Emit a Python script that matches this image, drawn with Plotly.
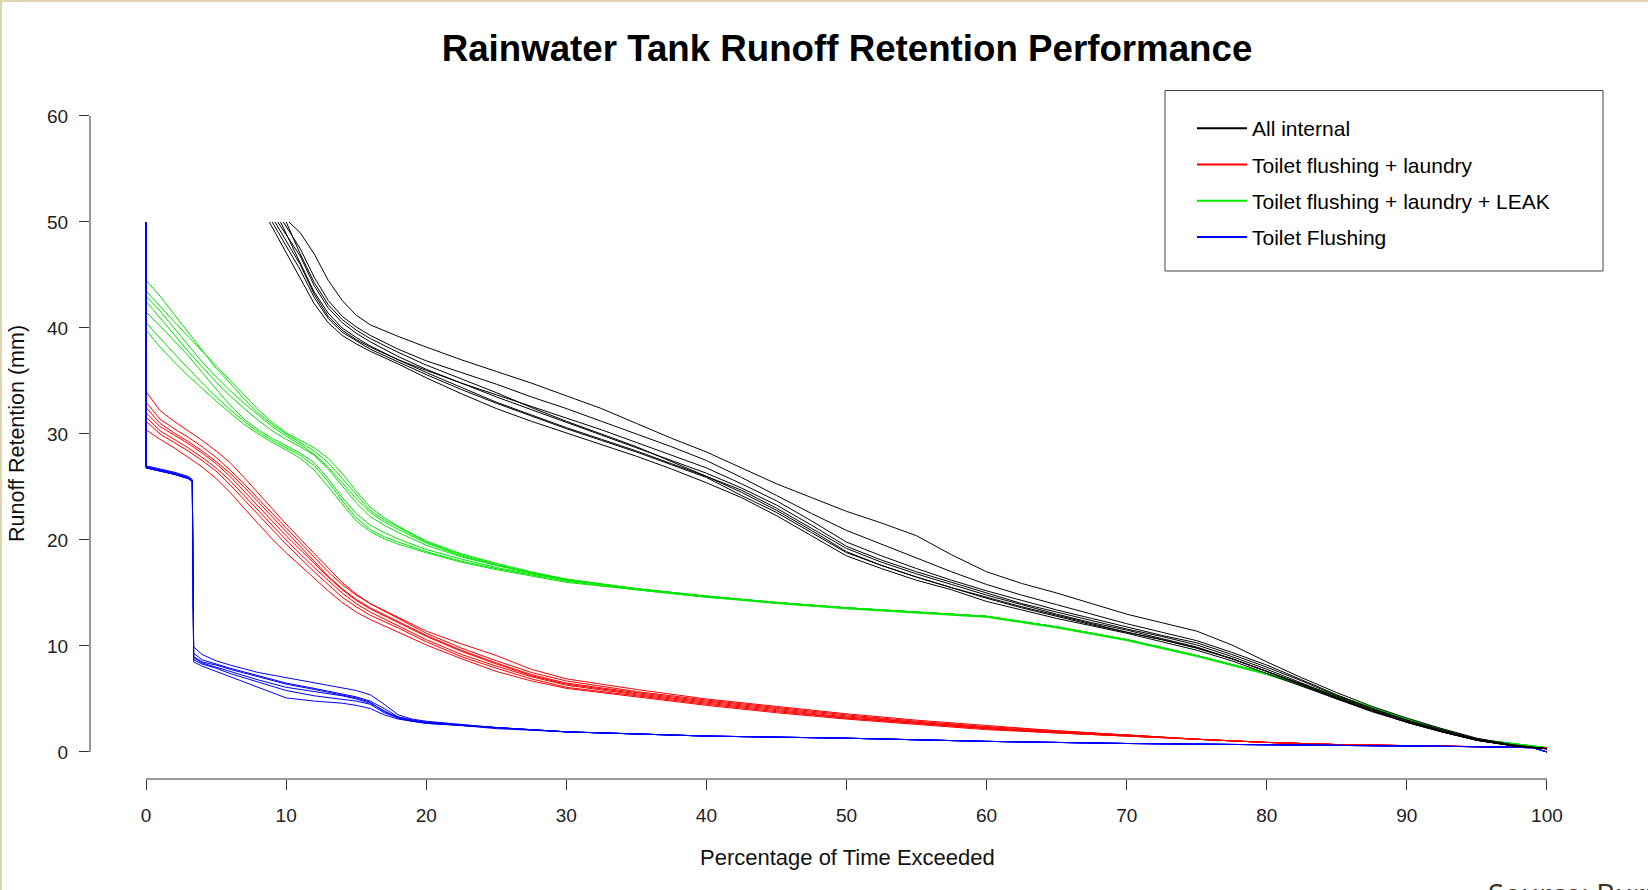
import plotly.graph_objects as go

# ---------------- data ----------------
legend_names = ["All internal", "Toilet flushing + laundry",
                "Toilet flushing + laundry + LEAK", "Toilet Flushing"]

# All internal (black): each line starts at y=50 at its own x, then follows the shared grid
black_start_x = [10.2, 9.8, 8.8, 9.4, 9.6, 9.2, 10.0, 9.0]
black_x = [11, 12, 13, 14, 15, 16, 18, 20, 22.5, 25, 27.5, 30, 32.5, 35, 37.5, 40, 42.5, 45,
           47.5, 50, 52.5, 55, 57.5, 60, 62.5, 65, 67.5, 70, 72.5, 75, 77.5, 80, 82.5, 85,
           87.5, 90, 92.5, 95, 97.5, 100]
black_lines = [
    [49.0, 47.0, 44.5, 42.6, 41.2, 40.3, 39.2, 38.2, 37.0, 35.9, 34.8, 33.6, 32.4, 31.0, 29.6, 28.3, 26.8, 25.3,
     24.0, 22.7, 21.6, 20.4, 18.6, 17.0, 15.9, 15.0, 14.0, 13.0, 12.2, 11.4, 10.1, 8.5, 7.0, 5.6, 4.3, 3.2, 2.2, 1.3, 0.7, 0.3],
    [47.5, 44.8, 42.6, 41.1, 40.1, 39.3, 38.0, 36.9, 35.8, 34.7, 33.5, 32.4, 31.2, 30.0, 28.8, 27.5, 25.9, 24.2,
     22.5, 20.9, 19.6, 18.3, 17.0, 15.8, 14.8, 13.9, 13.0, 12.1, 11.3, 10.5, 9.4, 8.2, 6.8, 5.4, 4.1, 3.0, 2.1, 1.2, 0.6, 0.3],
    [44.8, 42.3, 40.5, 39.3, 38.5, 37.8, 36.6, 35.3, 33.8, 32.4, 31.2, 30.1, 29.0, 27.9, 26.7, 25.4, 24.0, 22.3,
     20.4, 18.5, 17.3, 16.2, 15.3, 14.2, 13.4, 12.6, 11.9, 11.2, 10.4, 9.6, 8.6, 7.4, 6.2, 5.0, 3.9, 2.8, 1.9, 1.1, 0.6, 0.3],
    [46.8, 44.0, 41.9, 40.5, 39.5, 38.7, 37.3, 36.1, 34.8, 33.5, 32.3, 31.1, 29.9, 28.7, 27.5, 26.3, 24.9, 23.3,
     21.4, 19.4, 18.1, 17.0, 16.0, 15.0, 14.0, 13.2, 12.4, 11.6, 10.9, 10.1, 9.0, 7.8, 6.5, 5.2, 4.0, 2.9, 2.0, 1.2, 0.6, 0.3],
    [46.2, 43.4, 41.4, 40.0, 39.1, 38.3, 37.0, 35.8, 34.4, 33.0, 31.8, 30.6, 29.5, 28.4, 27.2, 26.0, 24.5, 22.8,
     20.9, 18.9, 17.6, 16.5, 15.5, 14.5, 13.6, 12.8, 12.0, 11.3, 10.6, 9.8, 8.8, 7.6, 6.4, 5.1, 3.9, 2.8, 1.9, 1.1, 0.6, 0.3],
    [46.0, 43.2, 41.1, 39.8, 38.9, 38.2, 37.0, 36.0, 34.8, 33.7, 32.6, 31.5, 30.4, 29.2, 28.0, 26.8, 25.3, 23.7,
     21.8, 19.8, 18.5, 17.3, 16.2, 15.2, 14.3, 13.4, 12.6, 11.8, 11.0, 10.3, 9.2, 8.0, 6.7, 5.3, 4.1, 3.0, 2.0, 1.2, 0.6, 0.3],
    [47.0, 44.3, 42.2, 40.8, 39.8, 39.0, 37.7, 36.5, 35.2, 33.9, 32.5, 31.2, 30.0, 28.8, 27.4, 26.0, 24.7, 23.0,
     21.1, 19.2, 17.9, 16.8, 15.8, 14.8, 13.9, 13.0, 12.2, 11.5, 10.7, 9.9, 8.8, 7.6, 6.4, 5.1, 3.9, 2.8, 1.9, 1.1, 0.6, 0.3],
    [45.5, 42.9, 40.9, 39.6, 38.8, 38.0, 36.8, 35.6, 34.2, 32.9, 31.7, 30.5, 29.4, 28.3, 27.1, 25.9, 24.2, 22.6,
     20.7, 18.8, 17.6, 16.5, 15.5, 14.6, 13.7, 12.9, 12.1, 11.3, 10.6, 9.8, 8.8, 7.6, 6.3, 5.0, 3.8, 2.8, 1.9, 1.1, 0.6, 0.3],
]

# Toilet flushing + laundry + LEAK (green)
green_x = [0, 1, 2, 3, 4, 5, 6, 7, 8, 9, 10, 11, 12, 13, 14, 15, 16, 17, 18, 20, 22.5, 25, 27.5, 30,
           35, 40, 45, 50, 55, 60, 65, 70, 75, 80, 85, 90, 95, 100]
green_lines = [
    [44.5, 43.0, 41.3, 39.6, 37.8, 36.2, 34.8, 33.3, 32.0, 30.9, 30.0, 29.2, 28.4, 27.3, 25.8, 24.2, 22.8, 21.9, 21.2,
     19.8, 18.6, 17.7, 16.9, 16.3, 15.4, 14.7, 14.1, 13.6, 13.2, 12.8, 11.8, 10.6, 9.1, 7.4, 5.3, 3.1, 1.2, 0.4],
    [43.5, 42.0, 40.6, 39.2, 37.8, 36.4, 35.0, 33.6, 32.3, 31.1, 30.1, 29.4, 28.7, 27.7, 26.3, 24.6, 23.1, 22.1, 21.3,
     19.9, 18.7, 17.8, 17.0, 16.3, 15.4, 14.7, 14.1, 13.6, 13.2, 12.8, 11.8, 10.6, 9.1, 7.4, 5.3, 3.1, 1.2, 0.4],
    [42.5, 41.0, 39.4, 37.8, 36.3, 34.9, 33.6, 32.4, 31.3, 30.3, 29.5, 28.8, 28.0, 26.7, 25.1, 23.5, 22.2, 21.4, 20.7,
     19.5, 18.4, 17.6, 16.9, 16.2, 15.4, 14.7, 14.1, 13.6, 13.2, 12.8, 11.8, 10.6, 9.1, 7.4, 5.3, 3.1, 1.2, 0.4],
    [41.5, 40.2, 38.8, 37.4, 35.8, 34.2, 32.7, 31.4, 30.4, 29.6, 28.9, 28.2, 27.3, 25.8, 24.0, 22.5, 21.4, 20.7, 20.1,
     19.1, 18.2, 17.4, 16.8, 16.2, 15.4, 14.7, 14.1, 13.6, 13.2, 12.8, 11.8, 10.6, 9.1, 7.4, 5.3, 3.1, 1.2, 0.4],
    [40.5, 39.0, 37.6, 36.2, 34.8, 33.5, 32.3, 31.2, 30.2, 29.4, 28.7, 28.0, 27.0, 25.5, 23.7, 22.1, 21.0, 20.3, 19.8,
     18.9, 18.0, 17.3, 16.7, 16.1, 15.3, 14.6, 14.1, 13.6, 13.2, 12.8, 11.8, 10.6, 9.1, 7.4, 5.3, 3.1, 1.2, 0.4],
    [39.8, 38.2, 36.8, 35.5, 34.3, 33.1, 32.0, 30.9, 30.0, 29.2, 28.5, 27.7, 26.6, 25.0, 23.3, 21.8, 20.8, 20.1, 19.6,
     18.8, 17.9, 17.2, 16.6, 16.0, 15.3, 14.6, 14.0, 13.5, 13.1, 12.7, 11.7, 10.5, 9.0, 7.3, 5.2, 3.0, 1.2, 0.4],
    [43.0, 41.6, 40.0, 38.4, 36.8, 35.4, 34.1, 32.9, 31.8, 30.7, 29.8, 29.0, 28.1, 26.9, 25.4, 23.9, 22.6, 21.7, 21.0,
     19.7, 18.5, 17.6, 16.9, 16.3, 15.4, 14.7, 14.1, 13.6, 13.2, 12.8, 11.8, 10.6, 9.1, 7.4, 5.3, 3.1, 1.2, 0.4],
]

# Toilet flushing + laundry (red)
red_x = [0, 1, 2, 3, 4, 5, 6, 7, 8, 9, 10, 11, 12, 13, 14, 15, 16, 18, 20, 22.5, 25, 27.5, 30, 35, 40,
         45, 50, 55, 60, 65, 70, 75, 80, 85, 90, 95, 100]
red_lines = [
    [34.0, 32.2, 31.2, 30.3, 29.4, 28.4, 27.3, 25.9, 24.4, 22.9, 21.5, 20.1, 18.7, 17.3, 16.0, 14.9, 14.0, 12.7, 11.4,
     10.2, 9.1, 7.8, 6.9, 5.9, 5.0, 4.3, 3.6, 3.0, 2.5, 2.0, 1.6, 1.2, 0.9, 0.7, 0.6, 0.5, 0.4],
    [33.0, 31.4, 30.5, 29.7, 28.8, 27.8, 26.6, 25.3, 23.9, 22.5, 21.1, 19.7, 18.3, 17.0, 15.8, 14.8, 14.0, 12.6, 11.2,
     9.8, 8.6, 7.5, 6.7, 5.7, 4.9, 4.2, 3.5, 2.9, 2.4, 2.0, 1.6, 1.2, 0.9, 0.7, 0.6, 0.5, 0.4],
    [32.0, 30.7, 29.9, 29.1, 28.2, 27.2, 26.0, 24.6, 23.1, 21.7, 20.4, 19.1, 17.8, 16.5, 15.3, 14.3, 13.5, 12.2, 10.9,
     9.5, 8.3, 7.2, 6.4, 5.5, 4.7, 4.0, 3.3, 2.8, 2.3, 1.9, 1.6, 1.2, 0.9, 0.7, 0.6, 0.5, 0.4],
    [31.2, 30.0, 29.2, 28.4, 27.5, 26.5, 25.2, 23.8, 22.3, 20.9, 19.6, 18.3, 17.0, 15.8, 14.6, 13.7, 12.9, 11.7, 10.4,
     9.0, 7.9, 6.9, 6.1, 5.3, 4.5, 3.8, 3.2, 2.7, 2.2, 1.8, 1.5, 1.2, 0.9, 0.7, 0.6, 0.5, 0.4],
    [30.4, 29.5, 28.7, 27.8, 26.9, 25.8, 24.5, 23.0, 21.5, 20.1, 18.8, 17.6, 16.4, 15.2, 14.1, 13.2, 12.5, 11.3, 10.1,
     8.8, 7.6, 6.7, 6.0, 5.2, 4.4, 3.7, 3.1, 2.6, 2.1, 1.8, 1.5, 1.2, 0.9, 0.7, 0.6, 0.5, 0.4],
    [32.5, 31.0, 30.1, 29.3, 28.4, 27.4, 26.3, 25.0, 23.6, 22.2, 20.7, 19.3, 17.9, 16.6, 15.4, 14.4, 13.6, 12.3, 11.0,
     9.6, 8.4, 7.3, 6.5, 5.6, 4.8, 4.1, 3.4, 2.8, 2.3, 1.9, 1.6, 1.2, 0.9, 0.7, 0.6, 0.5, 0.4],
    [31.6, 30.3, 29.5, 28.7, 27.8, 26.8, 25.6, 24.2, 22.7, 21.3, 20.0, 18.7, 17.4, 16.2, 15.0, 14.0, 13.2, 11.9, 10.6,
     9.2, 8.1, 7.1, 6.3, 5.4, 4.6, 3.9, 3.2, 2.7, 2.2, 1.8, 1.5, 1.2, 0.9, 0.7, 0.6, 0.5, 0.4],
]

# Toilet Flushing (blue)
blue_x = [0, 0, 1, 2, 3, 3.3, 3.4, 4, 5, 6, 8, 10, 12, 14, 15, 16, 17, 18, 19, 20, 22.5, 25, 30, 35, 40,
          50, 60, 70, 80, 90, 95, 99, 100]
blue_lines = [
    [50, 27.0, 26.7, 26.4, 26.0, 25.7, 9.9, 9.2, 8.6, 8.2, 7.5, 7.0, 6.5, 6.0, 5.8, 5.4, 4.5, 3.5, 3.1, 2.9, 2.6, 2.3,
     1.9, 1.7, 1.5, 1.3, 1.0, 0.8, 0.7, 0.6, 0.5, 0.4, 0.0],
    [50, 26.9, 26.6, 26.3, 25.9, 25.6, 9.3, 8.7, 8.3, 7.9, 7.2, 6.5, 6.0, 5.5, 5.2, 4.8, 4.1, 3.3, 3.0, 2.8, 2.5, 2.3,
     1.9, 1.7, 1.5, 1.3, 1.0, 0.8, 0.7, 0.6, 0.5, 0.4, 0.0],
    [50, 26.8, 26.5, 26.2, 25.8, 25.5, 8.9, 8.4, 8.0, 7.6, 6.8, 6.1, 5.7, 5.3, 5.0, 4.6, 3.9, 3.2, 2.9, 2.8, 2.5, 2.3,
     1.9, 1.7, 1.5, 1.3, 1.0, 0.8, 0.7, 0.6, 0.5, 0.4, 0.0],
    [50, 26.8, 26.5, 26.2, 25.8, 25.5, 8.5, 8.1, 7.6, 7.1, 6.1, 5.1, 4.8, 4.6, 4.4, 4.1, 3.5, 3.1, 2.9, 2.7, 2.5, 2.2,
     1.9, 1.7, 1.5, 1.3, 1.0, 0.8, 0.7, 0.6, 0.5, 0.4, 0.0],
    [50, 26.9, 26.6, 26.3, 25.9, 25.6, 9.0, 8.5, 8.2, 7.8, 7.1, 6.4, 5.9, 5.4, 5.1, 4.7, 3.8, 3.3, 3.0, 2.8, 2.5, 2.3,
     1.9, 1.7, 1.5, 1.3, 1.0, 0.8, 0.7, 0.6, 0.5, 0.4, 0.0],
    [50, 26.8, 26.5, 26.2, 25.8, 25.5, 8.7, 8.3, 7.9, 7.4, 6.6, 5.8, 5.3, 5.0, 4.8, 4.5, 3.7, 3.2, 2.9, 2.7, 2.5, 2.3,
     1.9, 1.7, 1.5, 1.3, 1.0, 0.8, 0.7, 0.6, 0.5, 0.4, 0.0],
]

x_ticks = [0, 10, 20, 30, 40, 50, 60, 70, 80, 90, 100]
y_ticks = [0, 10, 20, 30, 40, 50, 60]

# ---------------- figure ----------------
FONT = "Liberation Sans, Arial, sans-serif"
C_BLACK, C_RED, C_GREEN, C_BLUE = "#000000", "#FF0000", "#00E600", "#0000FF"

fig = go.Figure()


def add_group(xs_list, ys_list, color, name):
    for xs, ys in zip(xs_list, ys_list):
        fig.add_trace(go.Scatter(
            x=xs, y=ys, mode="lines",
            line=dict(color=color, width=1),
            name=name, legendgroup=name,
            showlegend=False, hoverinfo="skip"))


add_group([green_x] * len(green_lines), green_lines, C_GREEN, legend_names[2])
add_group([red_x] * len(red_lines), red_lines, C_RED, legend_names[1])
add_group([blue_x] * len(blue_lines), blue_lines, C_BLUE, legend_names[3])
add_group([[s] + black_x for s in black_start_x],
          [[50] + ys for ys in black_lines], C_BLACK, legend_names[0])

# legend entries (legend-only keys, drawn a little thicker like the reference key)
for rank, (name, color) in enumerate(zip(legend_names, [C_BLACK, C_RED, C_GREEN, C_BLUE]), start=1):
    fig.add_trace(go.Scatter(
        x=[None], y=[None], mode="lines", line=dict(color=color, width=2),
        name=name, legendgroup=name, legendrank=rank, showlegend=True, hoverinfo="skip"))

L, R, T, B = 90, 45, 90, 111
W, H = 1648, 890
pw, ph = W - L - R, H - T - B


def px_x(p):  # pixel -> paper x
    return (p - L) / pw


def px_y(p):  # pixel -> paper y
    return (H - B - p) / ph


axis_col = "#333333"
shapes = [
    # R-style axis lines spanning first to last tick
    dict(type="line", xref="x", yref="paper", x0=0, x1=100, y0=0, y1=0,
         line=dict(color=axis_col, width=1)),
    dict(type="line", xref="paper", yref="y", x0=0, x1=0, y0=0, y1=60,
         line=dict(color=axis_col, width=1)),
    # legend box
    dict(type="rect", xref="paper", yref="paper",
         x0=px_x(1165), x1=px_x(1603), y0=px_y(271), y1=px_y(90.5),
         line=dict(color="#444444", width=1), fillcolor="rgba(0,0,0,0)"),
    # page border (top and left)
    dict(type="line", xref="paper", yref="paper", x0=px_x(0), x1=px_x(W), y0=px_y(1), y1=px_y(1),
         line=dict(color="#DDD5AE", width=2)),
    dict(type="line", xref="paper", yref="paper", x0=px_x(1), x1=px_x(1), y0=px_y(0), y1=px_y(H),
         line=dict(color="#DDD5AE", width=2)),
]

annotations = [
    dict(text="Percentage of Time Exceeded", xref="paper", yref="paper",
         x=px_x(847), y=px_y(857), xanchor="center", yanchor="middle", showarrow=False,
         font=dict(family=FONT, size=22, color="#111111")),
    dict(text="Runoff Retention (mm)", xref="paper", yref="paper",
         x=px_x(17), y=px_y(434), xanchor="center", yanchor="middle", textangle=-90,
         showarrow=False, font=dict(family=FONT, size=21.5, color="#111111")),
    dict(text="Source: Burrows", xref="paper", yref="paper",
         x=px_x(1486), y=px_y(872), xanchor="left", yanchor="top", showarrow=False,
         font=dict(family="Open Sans, Lato, sans-serif", size=29, color="#3b3329")),
]

fig.update_layout(
    width=W, height=H, autosize=False,
    margin=dict(l=L, r=R, t=T, b=B),
    paper_bgcolor="white", plot_bgcolor="white",
    title=dict(text="<b>Rainwater Tank Runoff Retention Performance</b>",
               x=px_x(847), xref="paper", xanchor="center",
               y=1 - 48 / H, yref="container", yanchor="middle",
               font=dict(family=FONT, size=36.7, color="#000000")),
    xaxis=dict(range=[-4, 104], tickvals=x_ticks, ticktext=[str(v) for v in x_ticks],
               ticks="outside", ticklen=10, tickwidth=1, tickcolor=axis_col,
               showgrid=False, zeroline=False, showline=False,
               ticklabelstandoff=9,
               tickfont=dict(family=FONT, size=19, color="#222222")),
    yaxis=dict(range=[-2.55, 62.45], tickvals=y_ticks, ticktext=[str(v) for v in y_ticks],
               ticks="outside", ticklen=10, tickwidth=1, tickcolor=axis_col,
               showgrid=False, zeroline=False, showline=False,
               ticklabelstandoff=7,
               tickfont=dict(family=FONT, size=19, color="#222222")),
    legend=dict(x=px_x(1192), y=px_y(108), xanchor="left", yanchor="top",
                bgcolor="rgba(0,0,0,0)", borderwidth=0, itemwidth=50,
                traceorder="grouped", tracegroupgap=6,
                font=dict(family=FONT, size=21, color="#000000")),
    shapes=shapes, annotations=annotations,
    showlegend=True,
)

fig.write_html("out.html")
